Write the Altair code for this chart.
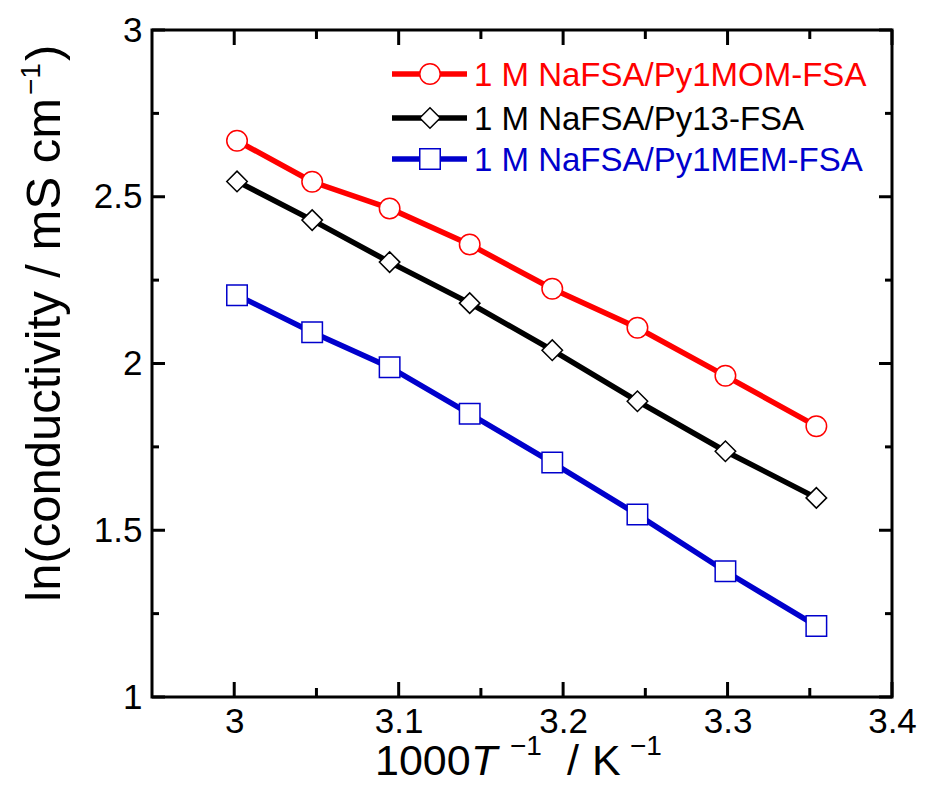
import altair as alt
import pandas as pd

# ---- data ----
inv_T = [3.0017, 3.0474, 3.0945, 3.1432, 3.1934, 3.2452, 3.2987, 3.3540]
series_names = ["1 M NaFSA/Py1MOM-FSA", "1 M NaFSA/Py13-FSA", "1 M NaFSA/Py1MEM-FSA"]
ln_mom = [2.668, 2.545, 2.465, 2.357, 2.224, 2.107, 1.963, 1.812]
ln_py13 = [2.546, 2.430, 2.304, 2.181, 2.040, 1.887, 1.737, 1.597]
ln_mem = [2.205, 2.094, 1.989, 1.849, 1.703, 1.547, 1.377, 1.213]
colors = ["#ff0000", "#000000", "#0000cc"]
shapes = ["circle", "diamond", "square"]

x_major = [3.0, 3.1, 3.2, 3.3, 3.4]
x_minor = [3.05, 3.15, 3.25, 3.35]
y_major = [1.0, 1.5, 2.0, 2.5, 3.0]
y_minor = [1.25, 1.75, 2.25, 2.75]
x_labels = [3.0, 3.1, 3.2, 3.3, 3.4]
y_labels = [1.0, 1.5, 2.0, 2.5, 3.0]

W, H = 740, 667
FONT = "Liberation Sans, Arial, Helvetica"

rows = []
for name, vals in zip(series_names, [ln_mom, ln_py13, ln_mem]):
    for xv, yv in zip(inv_T, vals):
        rows.append({"series": name, "x": xv, "y": yv})
df = pd.DataFrame(rows)

xs = alt.Scale(domain=[2.95, 3.4], nice=False, zero=False)
ys = alt.Scale(domain=[1, 3], nice=False, zero=False)
cscale = alt.Scale(domain=series_names, range=colors)
sscale = alt.Scale(domain=series_names, range=shapes)

xaxis = alt.Axis(values=x_labels, title=None, grid=False, ticks=False, tickSize=0, domain=False,
                 labelFont=FONT, labelFontSize=35, labelColor="black", labelPadding=7,
                 labelFlush=False, labelOverlap=False, format="~g")
yaxis = alt.Axis(values=y_labels, title=None, grid=False, ticks=False, tickSize=0, domain=False,
                 labelFont=FONT, labelFontSize=35, labelColor="black", labelPadding=10,
                 labelFlush=False, labelOverlap=False, format="~g")

lines = alt.Chart(df).mark_line(strokeWidth=5.5).encode(
    x=alt.X("x:Q", scale=xs, axis=xaxis),
    y=alt.Y("y:Q", scale=ys, axis=yaxis),
    color=alt.Color("series:N", scale=cscale, legend=None),
    detail="series:N",
)
points = alt.Chart(df).mark_point(fill="white", opacity=1, fillOpacity=1, strokeWidth=1.5, size=420).encode(
    x=alt.X("x:Q", scale=xs, axis=xaxis),
    y=alt.Y("y:Q", scale=ys, axis=yaxis),
    stroke=alt.Stroke("series:N", scale=cscale, legend=None),
    shape=alt.Shape("series:N", scale=sscale, legend=None),
)

def xticks(vals, length):
    d = pd.DataFrame({"x": vals})
    b = alt.Chart(d).mark_rule(color="black", strokeWidth=3).encode(
        x=alt.X("x:Q", scale=xs, axis=xaxis), y=alt.value(H), y2=alt.value(H - length))
    t = alt.Chart(d).mark_rule(color="black", strokeWidth=3).encode(
        x=alt.X("x:Q", scale=xs, axis=xaxis), y=alt.value(0), y2=alt.value(length))
    return [b, t]

def yticks(vals, length):
    d = pd.DataFrame({"y": vals})
    l = alt.Chart(d).mark_rule(color="black", strokeWidth=3).encode(
        y=alt.Y("y:Q", scale=ys, axis=yaxis), x=alt.value(0), x2=alt.value(length))
    r = alt.Chart(d).mark_rule(color="black", strokeWidth=3).encode(
        y=alt.Y("y:Q", scale=ys, axis=yaxis), x=alt.value(W), x2=alt.value(W - length))
    return [l, r]

tick_layers = xticks(x_major, 15) + xticks(x_minor, 9) + yticks(y_major, 13) + yticks(y_minor, 7)

# ---- legend (top right, inside the frame) ----
legend_layers = []
row_y = [44, 88, 129]
for i, name in enumerate(series_names):
    d = pd.DataFrame({"label": [name]})
    legend_layers.append(alt.Chart(d).mark_rule(color=colors[i], strokeWidth=5.5).encode(
        x=alt.value(240), x2=alt.value(315), y=alt.value(row_y[i])))
    legend_layers.append(alt.Chart(d).mark_point(shape=shapes[i], stroke=colors[i], fill="white",
                                                 opacity=1, fillOpacity=1, strokeWidth=1.5, size=420).encode(
        x=alt.value(278), y=alt.value(row_y[i])))
    legend_layers.append(alt.Chart(d).mark_text(align="left", baseline="middle", font=FONT, fontSize=33,
                                                color=colors[i], dy=2).encode(
        x=alt.value(322), y=alt.value(row_y[i]), text="label:N"))

# ---- axis titles built from text pieces (italic T and superscripts) ----
def txt(s, x, y, size, angle=0, align="left", style="normal"):
    d = pd.DataFrame({"t": [s]})
    return alt.Chart(d).mark_text(align=align, baseline="alphabetic", font=FONT, fontSize=size,
                                  fontStyle=style, angle=angle, color="black").encode(
        x=alt.value(x), y=alt.value(y), text="t:N")

XB = 745
title_layers = [
    txt("1000", 223, XB, 43),
    txt("T", 319, XB, 43, style="italic"),
    txt("\u22121", 358, XB - 20, 28),
    txt("/", 415, XB, 43),
    txt("K", 440, XB, 43),
    txt("\u22121", 478, XB - 20, 28),
    txt("ln(conductivity / mS cm", -92, 68, 49, angle=270, align="right"),
    txt("\u22121", -112, 65, 28, angle=270, align="left"),
    txt(")", -92, 31, 49, angle=270, align="left"),
]

chart = alt.layer(lines, points, *tick_layers, *legend_layers, *title_layers).properties(
    width=W, height=H,
    autosize=alt.AutoSizeParams(type="none"),
    padding={"left": 144, "top": 22, "right": 25, "bottom": 82},
).configure(background="white").configure_view(stroke="black", strokeWidth=3)

chart.save("out.html", embed_options={"renderer": "svg", "actions": False})
